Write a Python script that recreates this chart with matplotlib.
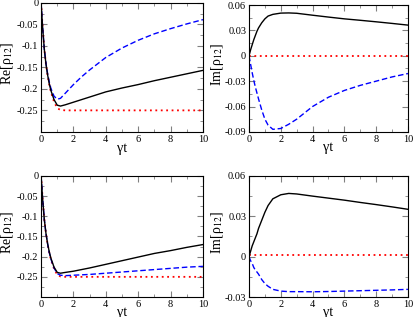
import matplotlib
matplotlib.use('Agg')
import matplotlib.pyplot as plt
from matplotlib.ticker import MultipleLocator

plt.rcParams['font.family'] = ['Liberation Serif', 'DejaVu Serif']
plt.rcParams['mathtext.fontset'] = 'stix'

# time grid shared by all curves
t = [0, 0.1, 0.2, 0.3, 0.4, 0.5, 0.6, 0.8, 1.0, 1.2, 1.5, 2, 2.5, 3, 4, 5, 6, 7, 8, 9, 10]

# top-left: Re[rho12]
re1_black = [0, -0.06, -0.108, -0.142, -0.167, -0.187, -0.203, -0.225, -0.238, -0.240, -0.237,
             -0.231, -0.225, -0.219, -0.207, -0.198, -0.190, -0.181, -0.173, -0.165, -0.157]
re1_blue = [0, -0.06, -0.107, -0.140, -0.164, -0.183, -0.198, -0.217, -0.224, -0.222, -0.210,
            -0.190, -0.172, -0.156, -0.127, -0.105, -0.087, -0.072, -0.060, -0.049, -0.039]
re1_red = [0, -0.06, -0.108, -0.142, -0.168, -0.189, -0.206, -0.230, -0.245, -0.249, -0.250,
           -0.250, -0.250, -0.250, -0.250, -0.250, -0.250, -0.250, -0.250, -0.250, -0.250]

# top-right: Im[rho12]
im1_black = [0, 0.007, 0.013, 0.019, 0.024, 0.029, 0.033, 0.039, 0.0437, 0.047, 0.049,
             0.0505, 0.0507, 0.0503, 0.0480, 0.0458, 0.0437, 0.0420, 0.0402, 0.0383, 0.0363]
im1_blue = [0, -0.010, -0.020, -0.029, -0.037, -0.044, -0.051, -0.064, -0.075, -0.082, -0.087,
            -0.086, -0.081, -0.075, -0.060, -0.049, -0.041, -0.035, -0.030, -0.025, -0.021]
im1_red = [0] * len(t)

# bottom-left: Re[rho12]
re2_black = [0, -0.06, -0.108, -0.142, -0.167, -0.187, -0.203, -0.226, -0.239, -0.241, -0.239,
             -0.236, -0.232, -0.228, -0.219, -0.210, -0.201, -0.192, -0.185, -0.177, -0.170]
re2_blue = [0, -0.06, -0.108, -0.142, -0.168, -0.189, -0.205, -0.228, -0.242, -0.246, -0.247,
            -0.246, -0.245, -0.244, -0.241, -0.238, -0.235, -0.232, -0.229, -0.226, -0.224]
re2_red = re1_red

# bottom-right: Im[rho12]
im2_black = [0, 0.004, 0.008, 0.011, 0.014, 0.017, 0.021, 0.027, 0.033, 0.038, 0.043,
             0.046, 0.047, 0.0466, 0.0450, 0.0435, 0.0420, 0.0403, 0.0387, 0.0370, 0.0352]
im2_blue = [0, -0.003, -0.005, -0.008, -0.010, -0.0114, -0.013, -0.017, -0.020, -0.022, -0.0243,
            -0.0256, -0.026, -0.026, -0.0261, -0.0259, -0.0256, -0.0253, -0.0250, -0.0247, -0.0243]
im2_red = [0.001] * len(t)

panels = [
    ([0.099, 0.584, 0.390, 0.407], re1_black, re1_blue, re1_red, (-0.3, 0), 0.05,
     [0, -0.05, -0.1, -0.15, -0.2, -0.25], 'Re[ρ$_{12}$]', -0.155, -0.075),
    ([0.600, 0.584, 0.383, 0.400], im1_black, im1_blue, im1_red, (-0.09, 0.06), 0.03,
     [-0.09, -0.06, -0.03, 0, 0.03, 0.06], 'Im[ρ$_{12}$]', -0.145, -0.075),
    ([0.099, 0.063, 0.390, 0.382], re2_black, re2_blue, re2_red, (-0.3, 0), 0.05,
     [0, -0.05, -0.1, -0.15, -0.2, -0.25], 'Re[ρ$_{12}$]', -0.155, -0.07),
    ([0.600, 0.063, 0.383, 0.382], im2_black, im2_blue, im2_red, (-0.03, 0.06), 0.03,
     [-0.03, 0, 0.03, 0.06], 'Im[ρ$_{12}$]', -0.145, -0.07),
]

fig = plt.figure(figsize=(4.15, 3.17), dpi=100)

for rect, yb, yblue, yred, ylim, step, yticks, ylabel, ylx, xly in panels:
    ax = fig.add_axes(rect)
    ax.plot(t, yred, color='#ff0000', linestyle=(0, (1, 2)), lw=1.3)
    ax.plot(t, yblue, color='#0000ff', linestyle=(0, (4, 2)), lw=1.0)
    ax.plot(t, yb, color='black', lw=1.0)
    ax.set_xlim(0, 10)
    ax.set_ylim(*ylim)
    ax.set_xticks([0, 2, 4, 6, 8, 10])
    ax.xaxis.set_minor_locator(MultipleLocator(1))
    ax.set_yticks(yticks)
    ax.set_yticklabels(['0' if v == 0 else ('%g' % v) for v in yticks])
    ax.yaxis.set_minor_locator(MultipleLocator(step / 2))
    ax.tick_params(which='both', direction='in', top=True, right=True,
                   labelsize=7.5, color='#808080', pad=2)
    ax.tick_params(which='major', length=4)
    ax.tick_params(which='minor', length=2)
    ax.set_xlabel('γt', fontsize=10)
    ax.set_ylabel(ylabel, fontsize=10)
    ax.yaxis.set_label_coords(ylx, 0.53)
    ax.xaxis.set_label_coords(0.5, xly)
    for sp in ax.spines.values():
        sp.set_linewidth(0.8)

fig.savefig('out.png', dpi=100)
